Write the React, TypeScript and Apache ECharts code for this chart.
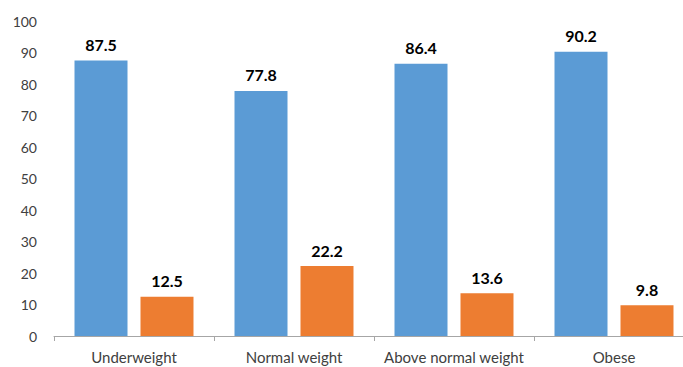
import React, { useEffect, useRef } from "react";
import * as echarts from "echarts";

const categories = ["Underweight", "Normal weight", "Above normal weight", "Obese"];
const blueValues = [87.5, 77.8, 86.4, 90.2];
const orangeValues = [12.5, 22.2, 13.6, 9.8];
const yTicks = { min: 0, max: 100, interval: 10 };

const FONT = "Lato, 'Open Sans', sans-serif";

export default function App() {
  const ref = useRef<HTMLDivElement>(null);

  useEffect(() => {
    if (!ref.current) return;
    const chart = echarts.init(ref.current, undefined, { renderer: "svg" });
    const label = {
      show: true,
      position: "top" as const,
      distance: 8,
      fontFamily: FONT,
      fontWeight: "bold" as const,
      fontSize: 16,
      color: "#000",
    };
    chart.setOption({
      animation: false,
      grid: { left: 54, top: 21, right: 6, height: 315, containLabel: false },
      xAxis: {
        type: "category",
        data: categories,
        axisLine: { show: true, lineStyle: { color: "#A6A6A6", width: 1 } },
        axisTick: { show: true, length: 5, lineStyle: { color: "#A6A6A6" } },
        axisLabel: { interval: 0, fontFamily: FONT, fontSize: 15, color: "#404040", margin: 13 },
        splitLine: { show: false },
      },
      yAxis: {
        type: "value",
        min: yTicks.min,
        max: yTicks.max,
        interval: yTicks.interval,
        axisLine: { show: false },
        axisTick: { show: false },
        splitLine: { show: false },
        axisLabel: { fontFamily: FONT, fontSize: 14, color: "#404040", margin: 17 },
      },
      series: [
        {
          type: "bar",
          data: blueValues,
          barWidth: 53,
          barGap: "24.5%",
          itemStyle: { color: "#5B9BD5" },
          label,
        },
        {
          type: "bar",
          data: orangeValues,
          barWidth: 53,
          itemStyle: { color: "#ED7D31" },
          label,
        },
      ],
    });
    return () => chart.dispose();
  }, []);

  return (
    <div style={{ position: "fixed", left: 0, top: 0, width: 683, height: 367, overflow: "hidden", background: "#fff" }}>
      <div ref={ref} style={{ width: 700, height: 367 }} />
    </div>
  );
}
